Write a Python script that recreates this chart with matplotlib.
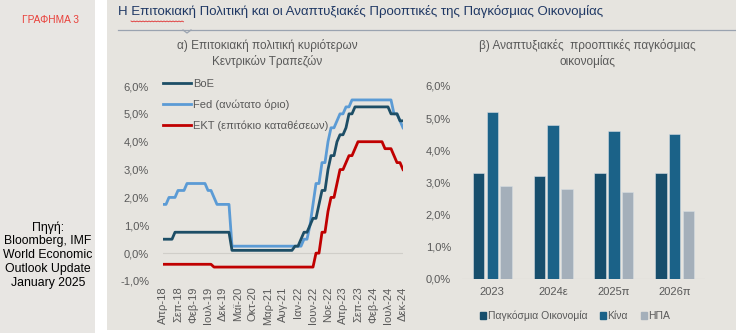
import numpy as np
import matplotlib
matplotlib.use("Agg")
import matplotlib.pyplot as plt
from matplotlib.patches import Rectangle, Patch
from matplotlib.ticker import FuncFormatter

plt.rcParams['font.family'] = ['Liberation Sans', 'DejaVu Sans']

# --- data: left panel, monthly Apr-18 .. Dec-24 (81 months) ---
boe = ([0.5] * 4 + [0.75] * 5 +              # 2018 Apr-Dec
       [0.75] * 12 +                         # 2019
       [0.75, 0.75] + [0.1] * 10 +           # 2020
       [0.1] * 11 + [0.25] +                 # 2021
       [0.25, 0.5, 0.75, 0.75, 1.0, 1.25, 1.25, 1.75, 2.25, 2.25, 3.0, 3.5] +
       [3.5, 4.0, 4.25, 4.25, 4.5, 5.0, 5.0, 5.25, 5.25, 5.25, 5.25, 5.25] +
       [5.25] * 7 + [5.0, 5.0, 5.0, 4.75, 4.75])
fed = ([1.75, 1.75, 2.0, 2.0, 2.0, 2.25, 2.25, 2.25, 2.5] +
       [2.5] * 6 + [2.25, 2.25, 2.0, 1.75, 1.75, 1.75] +
       [1.75, 1.75] + [0.25] * 10 +
       [0.25] * 12 +
       [0.25, 0.25, 0.5, 0.5, 1.0, 1.75, 2.5, 2.5, 3.25, 3.25, 4.0, 4.5] +
       [4.5, 4.75, 5.0, 5.0, 5.25, 5.25, 5.5, 5.5, 5.5, 5.5, 5.5, 5.5] +
       [5.5] * 8 + [5.0, 5.0, 4.75, 4.5])
ecb = ([-0.4] * 9 +
       [-0.4] * 8 + [-0.5] * 4 +
       [-0.5] * 12 +
       [-0.5] * 12 +
       [-0.5] * 6 + [0.0, 0.0, 0.75, 0.75, 1.5, 2.0] +
       [2.0, 2.5, 3.0, 3.0, 3.25, 3.5, 3.5, 3.75, 4.0, 4.0, 4.0, 4.0] +
       [4.0] * 5 + [3.75, 3.75, 3.75, 3.5, 3.25, 3.25, 3.0])
month_labels = ['Απρ-18', 'Σεπ-18', 'Φεβ-19', 'Ιουλ-19', 'Δεκ-19', 'Μαϊ-20',
                'Οκτ-20', 'Μαρ-21', 'Αυγ-21', 'Ιαν-22', 'Ιουν-22', 'Νοε-22',
                'Απρ-23', 'Σεπ-23', 'Φεβ-24', 'Ιουλ-24', 'Δεκ-24']
line_names = ['BoE', 'Fed (ανώτατο όριο)', 'ΕΚΤ (επιτόκιο καταθέσεων)']

# --- data: right panel ---
years = ['2023', '2024ε', '2025π', '2026π']
world = [3.3, 3.2, 3.3, 3.3]
china = [5.2, 4.8, 4.6, 4.5]
usa = [2.9, 2.8, 2.7, 2.1]
bar_names = ['Παγκόσμια Οικονομία', 'Κίνα', 'ΗΠΑ']

W, H = 736, 333
bg = '#e6e4df'
grey_txt = '#595959'
fig = plt.figure(figsize=(W / 100, H / 100), dpi=100, facecolor='white')

def px(x0, y0, w, h):
    # pixel box (top-left origin) -> figure fraction
    return [x0 / W, 1 - (y0 + h) / H, w / W, h / H]

fig.patches.append(Rectangle((0, 0), 95 / W, 1, transform=fig.transFigure,
                             facecolor='#e8e6e3', edgecolor='none', zorder=-10))
fig.patches.append(Rectangle((107 / W, 3 / H), 1, 1, transform=fig.transFigure,
                             facecolor=bg, edgecolor='none', zorder=-10))

fig.text(22 / W, 1 - 20 / H, 'ΓΡΑΦΗΜΑ 3', color='#e8403a', fontsize=7.3, va='center')
fig.text(48 / W, 1 - 255 / H,
         'Πηγή:\nBloomberg, IMF\nWorld Economic\nOutlook Update\nJanuary 2025',
         ha='center', va='center', fontsize=8.8, color='black', linespacing=1.2)
fig.text(118 / W, 1 - 11 / H,
         'Η Επιτοκιακή Πολιτική και οι Αναπτυξιακές Προοπτικές της Παγκόσμιας Οικονομίας',
         color='#1f3864', fontsize=9.5, va='center')
# spell-check squiggle under the second word
sq_x = np.arange(131, 184, 1.5)
sq_y = 21 + 0.8 * (np.arange(len(sq_x)) % 2)
fig.add_artist(plt.Line2D(sq_x / W, 1 - sq_y / H, color='#e03030', lw=0.6))
fig.add_artist(plt.Line2D([118 / W, 1], [1 - 30 / H] * 2, color='#9aa3b0', lw=0.9))
fig.add_artist(plt.Line2D([183 / W, 187 / W, 191 / W],
                          [1 - 30 / H, 1 - 33 / H, 1 - 30 / H], color='#9aa3b0', lw=0.9))

fig.text(267 / W, 1 - 54 / H, 'α) Επιτοκιακή πολιτική κυριότερων\nΚεντρικών Τραπεζών',
         ha='center', va='center', fontsize=8.5, color=grey_txt, linespacing=1.3)
fig.text(587 / W, 1 - 54 / H, 'β) Αναπτυξιακές  προοπτικές παγκόσμιας\nοικονομίας',
         ha='center', va='center', fontsize=8.5, color=grey_txt, linespacing=1.3)

pct = FuncFormatter(lambda v, p: f'{v:.1f}%'.replace('.', ','))

# --- left: policy rates ---
ax1 = fig.add_axes(px(163, 86, 240, 195))
ax1.set_facecolor('none')
x = np.arange(len(boe))
ax1.axhline(0, color='#d0cec9', lw=0.8, zorder=1)
ax1.plot(x, boe, color='#1d4e66', lw=2.0, label=line_names[0], zorder=3)
ax1.plot(x, fed, color='#5b9bd5', lw=2.0, label=line_names[1], zorder=2)
ax1.plot(x, ecb, color='#c00000', lw=2.0, label=line_names[2], zorder=2)
ax1.set_xlim(0, 80)
ax1.set_ylim(-1, 6)
ax1.set_yticks(range(-1, 7))
ax1.yaxis.set_major_formatter(pct)
ax1.set_xticks(range(0, 81, 5))
ax1.set_xticklabels(month_labels, rotation=90)
for s in ax1.spines.values():
    s.set_visible(False)
ax1.tick_params(length=0, labelsize=8, labelcolor=grey_txt)
ax1.tick_params(axis='y', pad=10)
ax1.tick_params(axis='x', pad=4)
ax1.legend(loc='upper left', bbox_to_anchor=(0, 1.035), frameon=False, fontsize=8,
           labelcolor=grey_txt, handlelength=2.5, handletextpad=0.2,
           labelspacing=0.95, borderpad=0, borderaxespad=0)

# --- right: growth outlook ---
ax2 = fig.add_axes(px(462, 86, 243, 193))
ax2.set_facecolor('none')
xc = np.arange(len(years))
w = 0.19
off = 0.225
ax2.bar(xc - off, world, w, color='#174e6c', edgecolor='#d6dde3', lw=0.4, zorder=2)
ax2.bar(xc, china, w, color='#1b6288', edgecolor='#d6dde3', lw=0.4, zorder=2)
ax2.bar(xc + off, usa, w, color='#a4afba', edgecolor='#d6dde3', lw=0.4, zorder=2)
ax2.axhline(0, color='#d0cec9', lw=0.8, zorder=1)
ax2.set_xlim(-0.5, 3.5)
ax2.set_ylim(0, 6)
ax2.set_yticks(range(0, 7))
ax2.yaxis.set_major_formatter(pct)
ax2.set_xticks(xc)
ax2.set_xticklabels(years)
for s in ax2.spines.values():
    s.set_visible(False)
ax2.tick_params(length=0, labelsize=8, labelcolor=grey_txt)
ax2.tick_params(axis='y', pad=8)
ax2.tick_params(axis='x', pad=6)

handles = [Patch(color=c) for c in ['#174e6c', '#1b6288', '#a4afba']]
fig.legend(handles, bar_names, loc='center', bbox_to_anchor=(575 / W, 1 - 316 / H),
           ncol=3, frameon=False, fontsize=7.5, labelcolor=grey_txt,
           handlelength=0.6, handleheight=0.6, handletextpad=0.15, columnspacing=1.2)

fig.savefig('out.png', dpi=100, facecolor=fig.get_facecolor())
